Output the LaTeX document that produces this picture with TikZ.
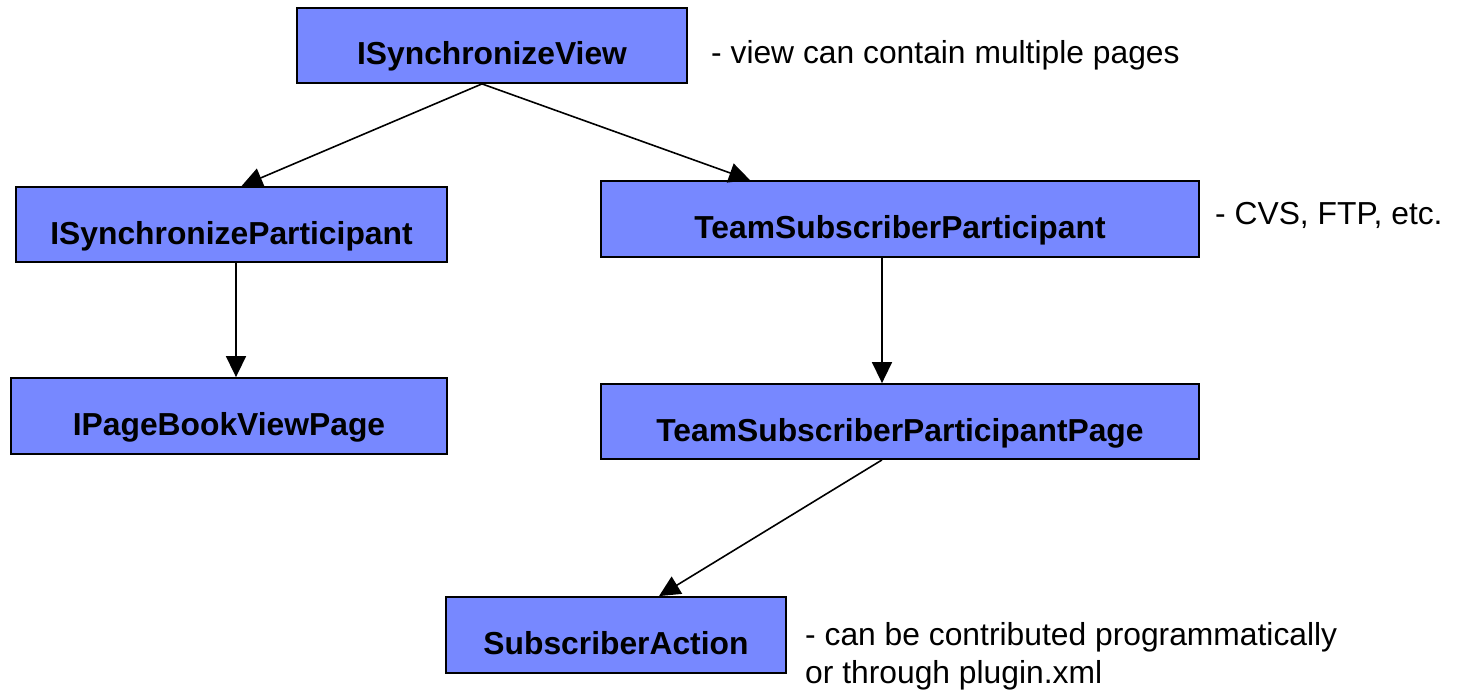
\documentclass[tikz,border=0pt]{standalone}
\usepackage{fontspec}
\setmainfont{Liberation Sans}
\usetikzlibrary{arrows.meta}
\definecolor{boxblue}{RGB}{119,136,255}
\tikzset{
  classbox/.style={draw=black, line width=1.8pt, fill=boxblue, rectangle,
    inner sep=0pt, text height=39pt, text depth=0pt,
    font=\fontsize{31.8pt}{37pt}\selectfont\bfseries},
  note/.style={anchor=base west, inner sep=0pt,
    font=\fontsize{31.8pt}{37pt}\selectfont},
  link/.style={line width=1.6pt, -{Triangle[length=21pt,width=20pt]}}
}
\begin{document}
\begin{tikzpicture}[x=1pt, y=-1pt]
\useasboundingbox (0,0) rectangle (1466,690);

% class boxes
\node[classbox, minimum width=390pt, minimum height=75pt] (view) at (492,45.5) {ISynchronizeView};
\node[classbox, minimum width=431pt, minimum height=75pt] (isp)  at (231.5,224.5) {ISynchronizeParticipant};
\node[classbox, minimum width=598pt, minimum height=76pt] (tsp)  at (900,219) {TeamSubscriberParticipant};
\node[classbox, minimum width=436pt, minimum height=76pt] (ipb)  at (229,416) {IPageBookViewPage};
\node[classbox, minimum width=598pt, minimum height=75pt] (tspp) at (900,421.5) {TeamSubscriberParticipantPage};
\node[classbox, minimum width=340pt, minimum height=76pt] (sa)   at (616,635) {SubscriberAction};

% remarks
\node[note] (n1) at (711,63.5) {- view can contain multiple pages};
\node[note] (n2) at (1215,224) {- CVS, FTP, etc.};
\node[note] (n3) at (805,645.5) {- can be contributed programmatically};
\node[note] (n4) at (805,683.5) {or through plugin.xml};

% connectors
\draw[link] ([xshift=-10pt]view.south) -- ([xshift=10pt]isp.north);
\draw[link] ([xshift=-10pt]view.south) -- ([xshift=-150pt]tsp.north);
\draw[link] ([xshift=4.5pt]isp.south) -- ([xshift=4.5pt]isp.south |- ipb.north);
\draw[link] ([xshift=-18pt]tsp.south) -- ([xshift=-18pt]tsp.south |- tspp.north);
\draw[link] ([xshift=-18pt]tspp.south) -- ([xshift=43pt]sa.north);
\end{tikzpicture}
\end{document}
